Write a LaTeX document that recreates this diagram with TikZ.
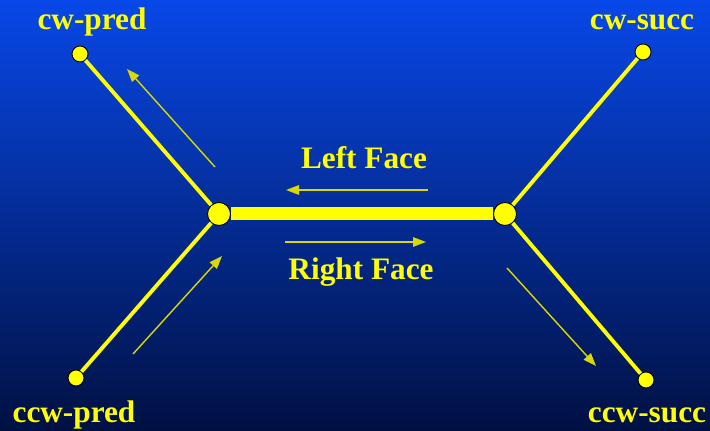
\documentclass[tikz,border=0pt]{standalone}
\usepackage{fontspec}
\setmainfont{Liberation Serif}
\usetikzlibrary{arrows.meta}
\definecolor{bgtop}{RGB}{8,72,232}
\definecolor{bgbot}{RGB}{0,16,66}
\definecolor{edgeyel}{RGB}{255,255,0}
\tikzset{
  vtx/.style={circle, draw=black, line width=0.5pt, fill=edgeyel, inner sep=0pt, minimum size=0.32cm},
  bigvtx/.style={vtx, minimum size=0.46cm},
  lbl/.style={text=edgeyel, font=\bfseries\fontsize{17.8}{20}\selectfont, inner sep=0pt, anchor=base},
  sideedge/.style={edgeyel, line width=2.2pt},
  faceedge/.style={edgeyel, line width=7.4pt},
  walk/.style={->, edgeyel!85!black, line width=0.8pt}
}
\begin{document}
\begin{tikzpicture}[x=0.02cm, y=-0.02cm, >={Triangle[length=0.26cm, width=0.19cm]}]
  \shade[top color=bgtop, bottom color=bgbot] (0,0) rectangle (710,431);
  \useasboundingbox (0,0) rectangle (710,431);
  % vertices
  \node[bigvtx] (L) at (219,214) {};
  \node[bigvtx] (R) at (505,214) {};
  \node[vtx] (cwp) at (80,54) {};
  \node[vtx] (cws) at (643,52) {};
  \node[vtx] (ccwp) at (76,378) {};
  \node[vtx] (ccws) at (646,380) {};
  % edges
  \draw[faceedge] (L) -- (R);
  \draw[sideedge] (L) -- (cwp);
  \draw[sideedge] (L) -- (ccwp);
  \draw[sideedge] (R) -- (cws);
  \draw[sideedge] (R) -- (ccws);
  % walking directions
  \coordinate (a1) at (215,167); \coordinate (a2) at (127,69);
  \coordinate (b1) at (428,190); \coordinate (b2) at (286,190);
  \coordinate (c1) at (285,242); \coordinate (c2) at (426,242);
  \coordinate (d1) at (133,354); \coordinate (d2) at (222,256);
  \coordinate (e1) at (507,268); \coordinate (e2) at (596,366);
  \foreach \s/\t in {a1/a2,b1/b2,c1/c2,d1/d2,e1/e2} \draw[walk] (\s) -- (\t);
  % labels
  \node[lbl] (tcwp) at (92,30) {cw-pred};
  \node[lbl] (tcws) at (642,30) {cw-succ};
  \node[lbl] (tccwp) at (74,423) {ccw-pred};
  \node[lbl] (tccws) at (647,423) {ccw-succ};
  \node[lbl] (tleft) at (364,169) {Left Face};
  \node[lbl] (tright) at (361,280) {Right Face};
\end{tikzpicture}
\end{document}
